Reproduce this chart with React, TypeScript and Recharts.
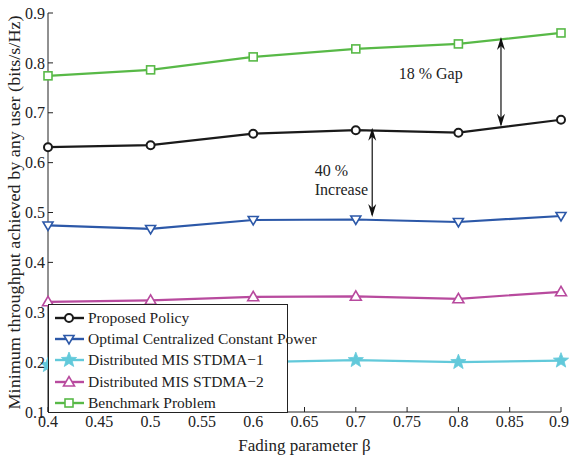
import React from "react";
import {
  LineChart,
  Line,
  XAxis,
  YAxis,
  ReferenceLine,
  ReferenceDot,
} from "recharts";

const betas = [0.4, 0.5, 0.6, 0.7, 0.8, 0.9];
const proposed = [0.631, 0.635, 0.658, 0.665, 0.66, 0.686];
const optimalCentral = [0.474, 0.467, 0.485, 0.486, 0.481, 0.493];
const misStdma1 = [0.194, 0.198, 0.2, 0.204, 0.2, 0.203];
const misStdma2 = [0.321, 0.324, 0.331, 0.332, 0.327, 0.341];
const benchmark = [0.774, 0.786, 0.812, 0.828, 0.838, 0.86];

const xTicks = [0.4, 0.45, 0.5, 0.55, 0.6, 0.65, 0.7, 0.75, 0.8, 0.85, 0.9];
const yTicks = [0.1, 0.2, 0.3, 0.4, 0.5, 0.6, 0.7, 0.8, 0.9];

const FONT = "'Times New Roman', 'Liberation Serif', 'DejaVu Serif', serif";
const AXIS = "#222";

const data = betas.map((b, i) => ({
  beta: b,
  proposed: proposed[i],
  optimal: optimalCentral[i],
  mis1: misStdma1[i],
  mis2: misStdma2[i],
  bench: benchmark[i],
}));

type Marker = "circle" | "triDown" | "star" | "triUp" | "square";

function markerPath(kind: Marker, cx: number, cy: number, color: string, key?: string) {
  switch (kind) {
    case "circle":
      return <circle key={key} cx={cx} cy={cy} r={4} fill="#fff" stroke={color} strokeWidth={2} />;
    case "square":
      return <rect key={key} x={cx - 4} y={cy - 4} width={8} height={8} fill="#fff" stroke={color} strokeWidth={1.6} />;
    case "triDown":
      return (
        <polygon key={key} points={`${cx - 5},${cy - 3.5} ${cx + 5},${cy - 3.5} ${cx},${cy + 5}`}
          fill="#fff" stroke={color} strokeWidth={1.6} />
      );
    case "triUp":
      return (
        <polygon key={key} points={`${cx - 5.5},${cy + 4} ${cx + 5.5},${cy + 4} ${cx},${cy - 5.5}`}
          fill="#fff" stroke={color} strokeWidth={1.6} />
      );
    case "star": {
      const pts: string[] = [];
      for (let k = 0; k < 10; k++) {
        const r = k % 2 === 0 ? 8 : 3.4;
        const a = -Math.PI / 2 + (k * Math.PI) / 5;
        pts.push(`${cx + r * Math.cos(a)},${cy + r * Math.sin(a)}`);
      }
      return <polygon key={key} points={pts.join(" ")} fill={color} stroke={color} strokeWidth={0.8} />;
    }
  }
}

const series = [
  { key: "proposed", name: "Proposed Policy", color: "#1a1a1a", marker: "circle" as Marker },
  { key: "optimal", name: "Optimal Centralized Constant Power", color: "#2c58a8", marker: "triDown" as Marker },
  { key: "mis1", name: "Distributed MIS STDMA\u22121", color: "#62c9da", marker: "star" as Marker },
  { key: "mis2", name: "Distributed MIS STDMA\u22122", color: "#b84a9e", marker: "triUp" as Marker },
  { key: "bench", name: "Benchmark Problem", color: "#58b947", marker: "square" as Marker },
];

function makeDot(kind: Marker, color: string) {
  return (props: any) => {
    const { cx, cy, index } = props;
    if (cx == null || cy == null) return <g key={index} />;
    return markerPath(kind, cx, cy, color, `m-${index}`);
  };
}

function LegendBox() {
  return (
    <div
      style={{
        position: "absolute",
        left: 48,
        top: 304,
        background: "#fff",
        border: "1.5px solid #222",
        width: 240,
        height: 109,
        boxSizing: "border-box",
        padding: "2px 0 0 5px",
        fontFamily: FONT,
        fontSize: 15.5,
        color: "#222",
      }}
    >
      {series.map((s) => (
        <div key={s.key} style={{ display: "flex", alignItems: "center", height: 21.3 }}>
          <svg width={32} height={16} style={{ flexShrink: 0, marginRight: 2 }}>
            <line x1={1} y1={8} x2={30} y2={8} stroke={s.color} strokeWidth={2.4} />
            {markerPath(s.marker, 15, 8, s.color)}
          </svg>
          <span style={{ whiteSpace: "nowrap" }}>{s.name}</span>
        </div>
      ))}
    </div>
  );
}

function DoubleArrow(props: any) {
  const { x1, y1, x2, y2 } = props;
  const top = Math.min(y1, y2);
  const bot = Math.max(y1, y2);
  return (
    <g>
      <line x1={x1} y1={top + 2} x2={x2} y2={bot - 2} stroke="#111" strokeWidth={1.2} />
      <path d={`M${x1},${top} L${x1 - 4},${top + 13} L${x1},${top + 9} L${x1 + 4},${top + 13} Z`} fill="#111" />
      <path d={`M${x1},${bot} L${x1 - 4},${bot - 13} L${x1},${bot - 9} L${x1 + 4},${bot - 13} Z`} fill="#111" />
    </g>
  );
}

function textShape(lines: string[], anchor: "start" | "middle") {
  return (props: any) => {
    const { cx, cy } = props;
    return (
      <text x={cx} y={cy} textAnchor={anchor} fontFamily={FONT} fontSize={16} fill="#222">
        {lines.map((l, i) => (
          <tspan key={i} x={cx} dy={i === 0 ? 0 : 19}>
            {l}
          </tspan>
        ))}
      </text>
    );
  };
}

function YLabel(props: any) {
  const vb = props.viewBox || {};
  const cy = (vb.y ?? 13) + (vb.height ?? 399) / 2;
  const cx = 14;
  return (
    <text
      x={cx}
      y={cy}
      transform={`rotate(-90, ${cx}, ${cy})`}
      textAnchor="middle"
      dominantBaseline="central"
      fontFamily={FONT}
      fontSize={17}
      fill="#222"
      textLength={394}
      lengthAdjust="spacingAndGlyphs"
    >
      Minimum throughput achieved by any user (bits/s/Hz)
    </text>
  );
}

export default function App() {
  const tickStyle = { fill: "#222", fontSize: 16, fontFamily: FONT };
  return (
    <div style={{ position: "absolute", left: 0, top: 0, width: 569, height: 455, background: "#fff", fontFamily: FONT }}>
      <LineChart
        width={569}
        height={455}
        data={data}
        margin={{ top: 13, right: 8, left: 0, bottom: 0 }}
        style={{ fontFamily: FONT }}
      >
        <XAxis
          dataKey="beta"
          type="number"
          domain={[0.4, 0.9]}
          ticks={xTicks}
          tickFormatter={(v) => String(Number(v.toFixed(2)))}
          tick={tickStyle}
          tickSize={-5}
          tickMargin={9}
          stroke={AXIS}
          height={43}
          label={{ value: "Fading parameter \u03b2", position: "insideBottom", offset: 4, style: { ...tickStyle, fontSize: 17 } }}
        />
        <XAxis
          xAxisId="top"
          orientation="top"
          dataKey="beta"
          type="number"
          domain={[0.4, 0.9]}
          ticks={xTicks}
          tick={false}
          tickSize={-5}
          stroke={AXIS}
          height={0}
        />
        <YAxis
          type="number"
          domain={[0.1, 0.9]}
          ticks={yTicks}
          tickFormatter={(v) => String(Number(v.toFixed(1)))}
          tick={tickStyle}
          tickSize={-5}
          tickMargin={8}
          stroke={AXIS}
          width={48}
          label={<YLabel />}
        />
        <YAxis
          yAxisId="right"
          orientation="right"
          type="number"
          domain={[0.1, 0.9]}
          ticks={yTicks}
          tick={false}
          tickSize={-5}
          stroke={AXIS}
          width={0}
        />
        {series.map((s) => (
          <Line
            key={s.key}
            dataKey={s.key}
            name={s.name}
            stroke={s.color}
            strokeWidth={2.2}
            dot={makeDot(s.marker, s.color)}
            activeDot={false}
            isAnimationActive={false}
          />
        ))}
        <ReferenceLine
          segment={[{ x: 0.8415, y: 0.852 }, { x: 0.8415, y: 0.672 }]}
          shape={DoubleArrow}
          ifOverflow="visible"
        />
        <ReferenceLine
          segment={[{ x: 0.716, y: 0.67 }, { x: 0.716, y: 0.491 }]}
          shape={DoubleArrow}
          ifOverflow="visible"
        />
        <ReferenceDot x={0.773} y={0.768} r={0} shape={textShape(["18 % Gap"], "middle")} ifOverflow="visible" />
        <ReferenceDot x={0.66} y={0.573} r={0} shape={textShape(["40 %", "Increase"], "start")} ifOverflow="visible" />
      </LineChart>
      <LegendBox />
    </div>
  );
}
